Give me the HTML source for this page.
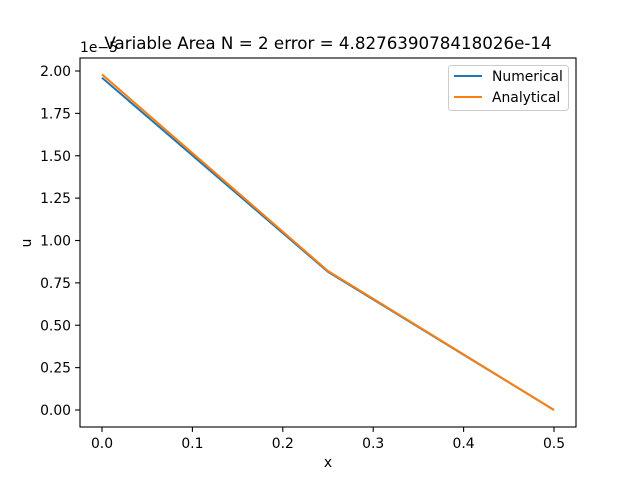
<!DOCTYPE html>
<html><head><meta charset="utf-8"><style>
body{margin:0;background:#fff;font-family:"Liberation Sans","DejaVu Sans",sans-serif}
svg text{font-family:"DejaVu Sans","Liberation Sans",sans-serif;fill:#000}
</style></head><body>
<svg id="chart" width="640" height="480">
<rect x="0" y="0" width="640" height="480" fill="#fff"/>
<g id="plot"></g>
</svg>
<script>
const xs=[0,0.25,0.5];
const numerical=[1.96,0.815,0];
const analytical=[1.98,0.82,0];
const xTicks=[0,0.1,0.2,0.3,0.4,0.5];
const xTickLabels=["0.0","0.1","0.2","0.3","0.4","0.5"];
const yTicks=[0,0.25,0.5,0.75,1,1.25,1.5,1.75,2];
const yTickLabels=["0.00","0.25","0.50","0.75","1.00","1.25","1.50","1.75","2.00"];
const L=80,R=576,T=58,B=427;
const sx=v=>102+v*904, sy=v=>410-v*169.5;
const NS="http://www.w3.org/2000/svg";
const g=document.getElementById('plot');
function mk(t,a,txt){const e=document.createElementNS(NS,t);for(const k in a)e.setAttribute(k,a[k]);if(txt!=null)e.textContent=txt;g.appendChild(e);return e;}
xTicks.forEach((v,i)=>{
const t=mk('line',{x1:sx(v),x2:sx(v),y1:B,y2:B+4.9,stroke:'#000','stroke-width':1.1});


const l=mk('text',{x:sx(v),y:B+21,'font-size':13.9,'text-anchor':'middle'},xTickLabels[i]);


});
yTicks.forEach((v,i)=>{
const t=mk('line',{x1:L-4.9,x2:L,y1:sy(v),y2:sy(v),stroke:'#000','stroke-width':1.1});


const l=mk('text',{x:L-9,y:sy(v)+5,'font-size':13.9,'text-anchor':'end'},yTickLabels[i]);


});
function line(ys,color,name){
const p=mk('polyline',{points:xs.map((x,i)=>sx(x)+','+sy(ys[i])).join(' '),fill:'none',stroke:color,'stroke-width':2});


}
line(numerical,'#1f77b4','numerical-line');
line(analytical,'#ff7f0e','analytical-line');
const fr=mk('rect',{x:L,y:T,width:R-L,height:B-T,fill:'none',stroke:'#000','stroke-width':1.1});


</script>
<svg style="position:absolute;left:0;top:0" width="640" height="480">
<text x="328" y="49" font-size="16.7" text-anchor="middle">Variable Area N = 2 error = 4.827639078418026e-14</text>
<text x="80" y="52" font-size="13.9">1e−5</text>
<text x="328" y="467" font-size="13.9" text-anchor="middle">x</text>
<text x="31" y="243" font-size="13.9" text-anchor="middle" transform="rotate(-90 31 243)">u</text>
<g>
<rect x="448.5" y="65.5" width="120" height="45" rx="3" fill="#fff" stroke="#ccc" stroke-width="1"/>
<line x1="454" x2="482" y1="76" y2="76" stroke="#1f77b4" stroke-width="2"/>
<text x="492" y="81" font-size="13.9">Numerical</text>
<line x1="454" x2="482" y1="97" y2="97" stroke="#ff7f0e" stroke-width="2"/>
<text x="492" y="102" font-size="13.9">Analytical</text>
</g>
</svg>
</body></html>
